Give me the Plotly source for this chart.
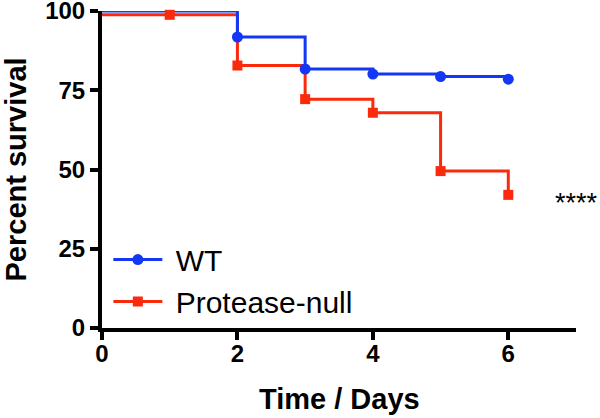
import plotly.graph_objects as go

wt_days = [0, 2, 3, 4, 5, 6]
wt_vals = [100, 91.8, 81.7, 80.1, 79.3, 78.5]
pn_days = [0, 1, 2, 3, 4, 5, 6]
pn_vals = [98.8, 98.8, 82.8, 72.2, 67.9, 49.5, 42.0]
x_ticks = [0, 2, 4, 6]
y_ticks = [0, 25, 50, 75, 100]
series_names = ["WT", "Protease-null"]
significance = "****"

BLUE = "#1238f5"
RED = "#fb2a0c"
FONT = "Liberation Sans, Arial, Helvetica, sans-serif"

fig = go.Figure()

# step lines
fig.add_trace(go.Scatter(x=pn_days, y=pn_vals, mode="lines", line=dict(color=RED, width=3, shape="hv"),
                         showlegend=False, hoverinfo="skip", cliponaxis=False))
fig.add_trace(go.Scatter(x=wt_days, y=wt_vals, mode="lines", line=dict(color=BLUE, width=3, shape="hv"),
                         showlegend=False, hoverinfo="skip", cliponaxis=False))
# markers (not at day 0)
fig.add_trace(go.Scatter(x=pn_days[1:], y=pn_vals[1:], mode="markers",
                         marker=dict(symbol="square", size=10, color=RED),
                         showlegend=False, cliponaxis=False))
fig.add_trace(go.Scatter(x=wt_days[1:], y=wt_vals[1:], mode="markers",
                         marker=dict(symbol="circle", size=11, color=BLUE),
                         showlegend=False, cliponaxis=False))
# legend entries
fig.add_trace(go.Scatter(x=[None], y=[None], mode="lines+markers", name="\u00a0" + series_names[0],
                         line=dict(color=BLUE, width=3), marker=dict(symbol="circle", size=11, color=BLUE)))
fig.add_trace(go.Scatter(x=[None], y=[None], mode="lines+markers", name="\u00a0" + series_names[1],
                         line=dict(color=RED, width=3), marker=dict(symbol="square", size=10, color=RED)))

fig.add_annotation(x=7, y=39.5, text=significance, showarrow=False, xanchor="center", yanchor="middle",
                   font=dict(family=FONT, size=27, color="black"))

# axis titles
fig.add_annotation(xref="paper", yref="paper", x=0.5, y=0, yshift=-71, text="<b>Time / Days</b>",
                   showarrow=False, xanchor="center", yanchor="middle",
                   font=dict(family=FONT, size=29, color="black"))
fig.add_annotation(xref="paper", yref="paper", x=0, y=0.5, xshift=-87, text="<b>Percent survival</b>",
                   textangle=-90, showarrow=False, xanchor="center", yanchor="middle",
                   font=dict(family=FONT, size=29, color="black"))

fig.update_layout(
    width=600, height=418,
    margin=dict(l=102, r=24, t=11, b=90),
    paper_bgcolor="white", plot_bgcolor="white",
    font=dict(family=FONT, color="black"),
    legend=dict(x=0.0134, y=0.298, xanchor="left", yanchor="top", bgcolor="rgba(0,0,0,0)",
                font=dict(family=FONT, size=30, color="black"), itemwidth=49, tracegroupgap=0),
    xaxis=dict(range=[0, 7], tickvals=x_ticks, ticktext=[str(t) for t in x_ticks], automargin=False,
               showline=True, linewidth=4, linecolor="black", showgrid=False, zeroline=False,
               ticks="outside", ticklen=8, tickwidth=4, tickcolor="black", ticklabelstandoff=-7,
               tickfont=dict(family=FONT, size=24, color="black", weight="bold")),
    yaxis=dict(range=[0, 100], tickvals=y_ticks, ticktext=[str(t) for t in y_ticks], automargin=False,
               showline=True, linewidth=4, linecolor="black", showgrid=False, zeroline=False,
               ticks="outside", ticklen=8, tickwidth=4, tickcolor="black", ticklabeloverflow="allow",
               tickfont=dict(family=FONT, size=24, color="black", weight="bold")),
)

fig.write_html("out.html", config={"displayModeBar": False},
               post_script="document.body.style.margin='0';")
